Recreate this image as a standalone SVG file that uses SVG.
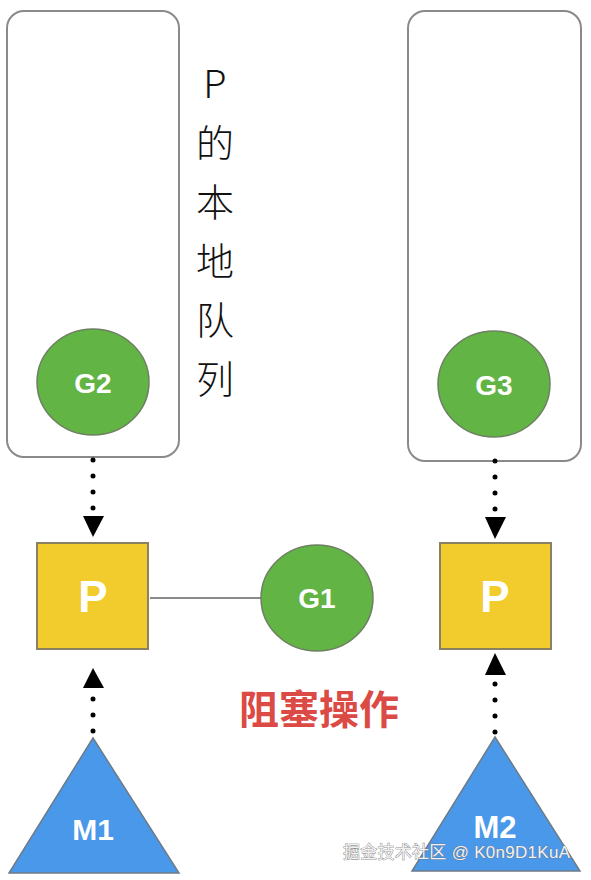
<svg xmlns="http://www.w3.org/2000/svg" width="591" height="880" viewBox="0 0 591 880">
<defs>
<style>
.queue{fill:#ffffff;stroke:#8a8a8a;stroke-width:2}
.g{fill:#62b444;stroke:#6e7f63;stroke-width:1.5}
.p{fill:#f2cc2c;stroke:#8a8062;stroke-width:2}
.m{fill:#4a98ea;stroke:#6d7b88;stroke-width:1.5}
.lbl{font-family:"Liberation Sans",Arial,sans-serif;font-weight:bold;fill:#ffffff;text-anchor:middle}
.dot{stroke:#000;stroke-width:5;stroke-linecap:round;stroke-dasharray:0 16;fill:none}
.vt{font-family:"Noto Sans CJK SC","Noto Sans",sans-serif;font-size:38px;fill:#111;text-anchor:middle;font-weight:300}
</style>
</defs>
<rect width="591" height="880" fill="#ffffff"/>
<g id="queue1"><rect class="queue" x="7" y="11" width="172" height="446" rx="17"/></g>
<g id="queue2"><rect class="queue" x="408" y="11" width="173" height="450" rx="17"/></g>
<g id="queueLabel">
<text class="vt" x="215" y="98">P</text>
<text class="vt" x="215" y="157">的</text>
<text class="vt" x="215" y="216">本</text>
<text class="vt" x="215" y="275">地</text>
<text class="vt" x="215" y="334">队</text>
<text class="vt" x="215" y="393">列</text>
</g>
<g id="connectors">
<path class="dot" d="M93 460 L93 510"/>
<polygon points="83,516 104,516 93,537" fill="#000"/>
<path class="dot" d="M93 699 L93 734"/>
<polygon points="83,688 104,688 93,668" fill="#000"/>
<path class="dot" d="M495 461 L495 511"/>
<polygon points="485,517 506,517 495,539" fill="#000"/>
<path class="dot" d="M495 684 L495 734"/>
<polygon points="485,675 506,675 495,653" fill="#000"/>
<line x1="150" y1="598" x2="261" y2="598" stroke="#8a8a8a" stroke-width="2"/>
</g>
<g id="G2"><ellipse class="g" cx="93" cy="382" rx="56" ry="53"/><text class="lbl" x="93" y="393" font-size="28">G2</text></g>
<g id="G3"><ellipse class="g" cx="494" cy="384" rx="56" ry="53"/><text class="lbl" x="494" y="395" font-size="28">G3</text></g>
<g id="P1"><rect class="p" x="37" y="543" width="111" height="106"/><text class="lbl" x="93" y="612" font-size="44">P</text></g>
<g id="P2"><rect class="p" x="440" y="543" width="111" height="106"/><text class="lbl" x="495" y="612" font-size="44">P</text></g>
<g id="G1"><ellipse class="g" cx="317" cy="598" rx="56" ry="53"/><text class="lbl" x="317" y="608" font-size="28">G1</text></g>
<g id="M1"><polygon class="m" points="93,738 179,873 9,873"/><text class="lbl" x="93" y="840" font-size="30">M1</text></g>
<g id="M2"><polygon class="m" points="495,737 580,871 412,871"/><text class="lbl" x="495" y="838" font-size="31">M2</text></g>
<g id="blockLabel"><text x="319" y="724" font-family="'Noto Sans CJK SC','Noto Sans',sans-serif" font-size="40" font-weight="bold" fill="#dc4a45" text-anchor="middle">阻塞操作</text></g>
<g id="watermark"><text x="343" y="858" font-family="'Liberation Sans','Noto Sans CJK SC',sans-serif" font-size="17" fill="#f2f2f2" stroke="#6e6e6e" stroke-width="0.7" paint-order="stroke" textLength="227">掘金技术社区 @ K0n9D1KuA</text></g>
</svg>
